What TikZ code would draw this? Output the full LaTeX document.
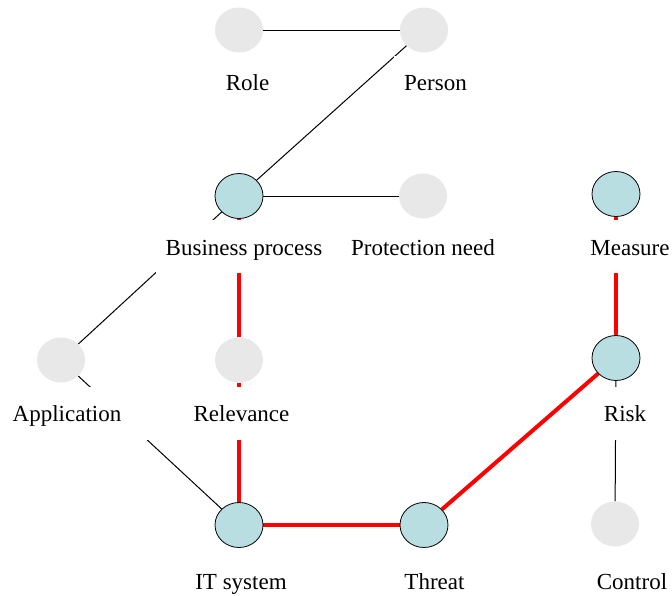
\documentclass[tikz,border=0pt]{standalone}
\usepackage{fontspec}
\setmainfont{Liberation Serif}
\usetikzlibrary{shapes.geometric,backgrounds}
\definecolor{nodeblue}{RGB}{185,222,226}
\definecolor{nodegrey}{RGB}{232,232,232}
\begin{document}
\begin{tikzpicture}[x=1pt,y=-1pt,
  ent/.style={ellipse, minimum width=48pt, minimum height=45pt, inner sep=0pt},
  bluent/.style={ent, fill=nodeblue, draw=black, line width=0.8pt},
  greyent/.style={ent, fill=nodegrey},
  lbl/.style={fill=white, anchor=base, font=\fontsize{23}{27}\selectfont,
    text height=35pt, text depth=18pt, inner ysep=0pt, inner xsep=10pt},
  thinline/.style={draw=black, line width=1pt},
  redline/.style={draw=red, line width=4pt}]
\useasboundingbox (0,0) rectangle (672,595);
% labels
\node[lbl] (lrole) at (247.5,90.5) {Role};
\node[lbl] (lperson) at (435.5,90.5) {Person};
\node[lbl] (lbp) at (244,255) {Business process};
\node[lbl] (lpn) at (423,255) {Protection need};
\node[lbl] (lmeasure) at (630,255) {Measure};
\node[lbl, minimum width=165pt] (lapp) at (67,421.5) {Application};
\node[lbl] (lrel) at (241.5,421.5) {Relevance};
\node[lbl] (lrisk) at (625,421.5) {Risk};
\node[lbl] (lit) at (241,589) {IT system};
\node[lbl] (lthreat) at (434.5,589) {Threat};
\node[lbl] (lcontrol) at (632,589) {Control};
% entities
\node[greyent] (role) at (239,30) {};
\node[greyent] (person) at (424,30) {};
\node[bluent] (bp) at (239,196) {};
\node[greyent] (pn) at (423,196) {};
\node[bluent] (measure) at (616,194) {};
\node[greyent] (app) at (61,360) {};
\node[greyent] (rel) at (239,360) {};
\node[bluent] (risk) at (616,358) {};
\node[bluent] (it) at (239,525) {};
\node[bluent] (threat) at (424,525) {};
\node[greyent] (control) at (615,524) {};
% connectors
\begin{pgfonlayer}{background}
\draw[thinline] (role) -- (person);
\draw[thinline] (person) -- (bp);
\draw[thinline] (bp) -- (pn);
\draw[thinline] (bp) -- (app);
\draw[thinline] (app) -- (it);
\draw[thinline] (risk) -- (control);
\draw[redline] (bp) -- (rel);
\draw[redline] (rel) -- (it);
\draw[redline] (it) -- (threat);
\draw[redline] (threat) -- (risk);
\draw[redline] (risk) -- (measure);
\end{pgfonlayer}
\end{tikzpicture}
\end{document}
